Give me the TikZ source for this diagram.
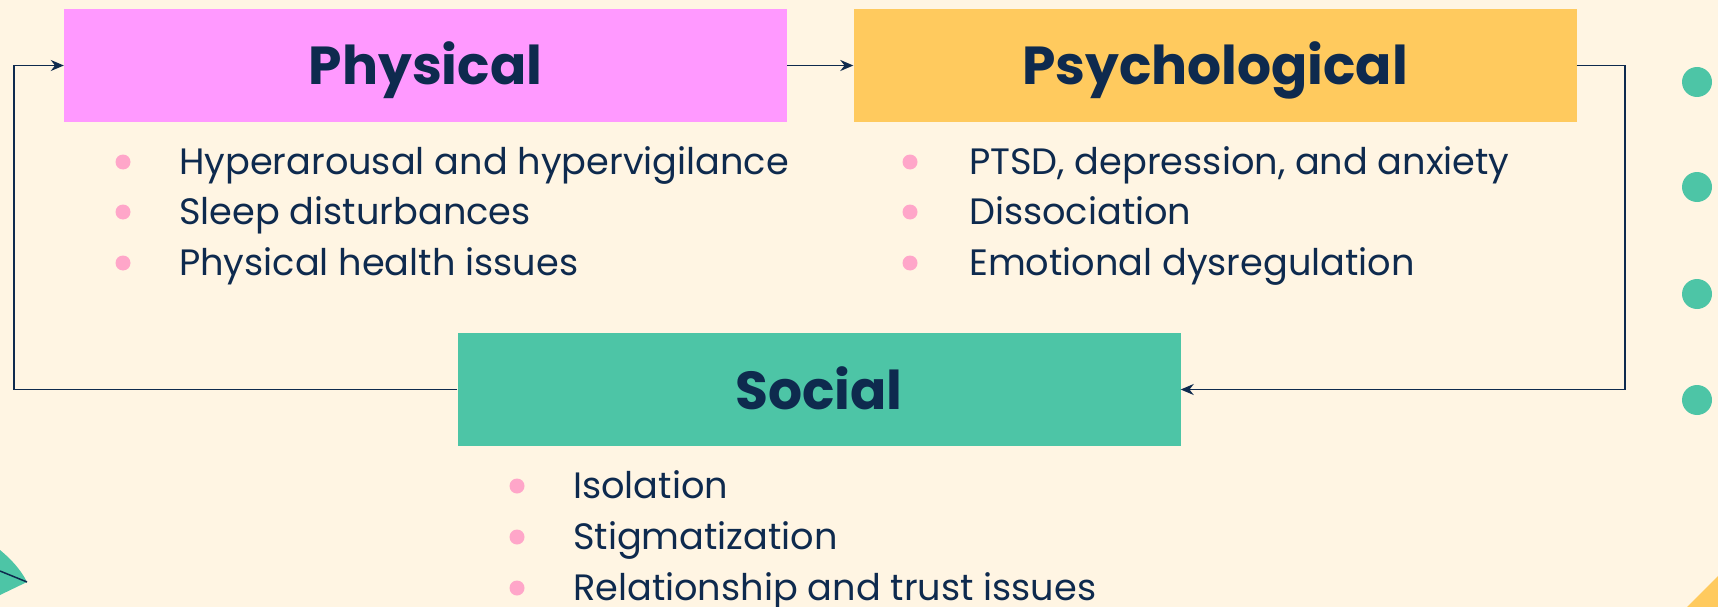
\documentclass[tikz,border=0pt]{standalone}
\usepackage{fontspec}
\setmainfont{Poppins}
\usetikzlibrary{arrows.meta}
\definecolor{bg}{HTML}{FFF5E3}
\definecolor{pinkbox}{HTML}{FF99FF}
\definecolor{orangebox}{HTML}{FFCA5E}
\definecolor{greenbox}{HTML}{4DC5A6}
\definecolor{navy}{HTML}{0E2A4E}
\definecolor{dotpink}{HTML}{FFA6C9}
\tikzset{
  box/.style={minimum width=723pt, minimum height=113pt, inner sep=0pt, text=navy,
    text height=39pt, text depth=0pt,
    font=\fontsize{53.5}{64}\selectfont\bfseries},
  item/.style={anchor=base west, inner sep=0pt, text=navy, font=\fontsize{36.7}{44}\selectfont},
  bul/.style={circle, fill=dotpink, minimum size=15pt, inner sep=0pt},
  conn/.style={draw=navy, line width=1.8pt, -{Stealth[length=13pt,width=11pt]}},
}
\begin{document}
\begin{tikzpicture}[x=1pt,y=-1pt]
\fill[bg] (0,0) rectangle (1718,607);
\useasboundingbox (0,0) rectangle (1718,607);
% decorations
\fill[greenbox] (-5,546) .. controls (8,556) and (20,568) .. (27,582) -- (0,595) -- cycle;
\draw[navy, line width=1.5pt] (0,571) -- (27,582);
\fill[orangebox] (1687,607) -- (1718,576) -- (1718,607) -- cycle;
\foreach \y [count=\i] in {82,187,294,400} {
  \node[circle, fill=greenbox, minimum size=30pt, inner sep=0pt] (g\i) at (1697,\y) {};
}
% boxes
\node[box, fill=pinkbox] (phys) at (425.5,65.5) {Physical};
\node[box, fill=orangebox] (psych) at (1215,65.5) {Psychological};
\node[box, fill=greenbox] (soc) at (819,389.5) {Social};
% bullets physical
\node[bul] (b11) at (123,162) {};
\node[bul] (b12) at (123,212) {};
\node[bul] (b13) at (123,263) {};
\node[item] (t11) at (179,174) {Hyperarousal and hypervigilance};
\node[item] (t12) at (179,224) {Sleep disturbances};
\node[item] (t13) at (179,275) {Physical health issues};
% bullets psychological
\node[bul] (b21) at (910,162) {};
\node[bul] (b22) at (910,212) {};
\node[bul] (b23) at (910,263) {};
\node[item] (t21) at (969,174) {PTSD, depression, and anxiety};
\node[item] (t22) at (969,224) {Dissociation};
\node[item] (t23) at (969,275) {Emotional dysregulation};
% bullets social
\node[bul] (b31) at (517,486) {};
\node[bul] (b32) at (517,537) {};
\node[bul] (b33) at (517,588) {};
\node[item] (t31) at (573,498) {Isolation};
\node[item] (t32) at (573,549) {Stigmatization};
\node[item] (t33) at (573,600) {Relationship and trust issues};
% connectors
\coordinate (cr) at (1625,0);
\coordinate (cl) at (14,0);
\draw[conn] (phys.east) -- (psych.west);
\draw[conn] (psych.east) -| (cr |- soc.east) -- (soc.east);
\draw[conn] (soc.west) -| (cl |- phys.west) -- (phys.west);
\end{tikzpicture}
\end{document}
